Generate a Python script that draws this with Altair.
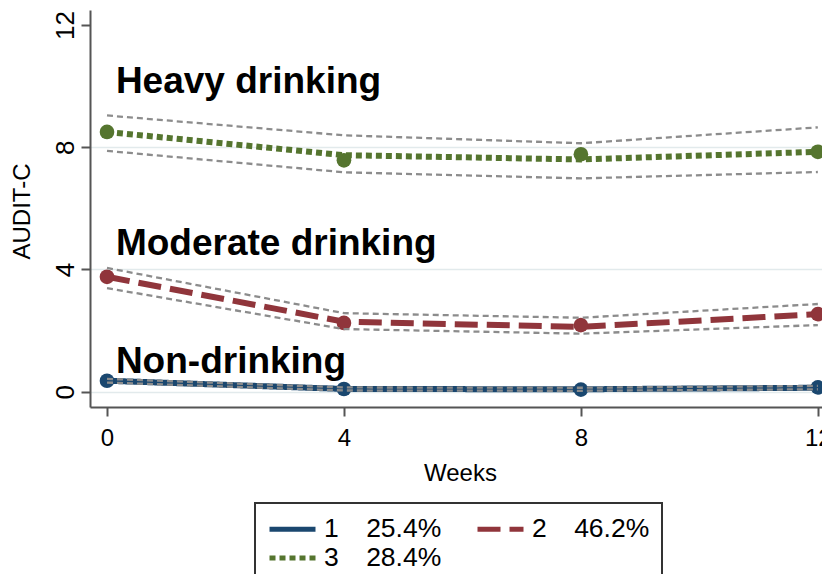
import altair as alt
import pandas as pd

# ---- data ----
weeks = [0, 4, 8, 12]
groups = ["1", "2", "3"]
shares = ["25.4%", "46.2%", "28.4%"]
colors = ["#1a476f", "#90353b", "#55752f"]
dashes = [[1, 0], [23, 9], [6, 4]]

fit_non = [0.36, 0.09, 0.08, 0.13]
obs_non = [0.36, 0.09, 0.07, 0.14]
lo_non = [0.30, 0.04, 0.03, 0.08]
hi_non = [0.42, 0.14, 0.13, 0.19]

fit_mod = [3.76, 2.29, 2.12, 2.54]
obs_mod = [3.76, 2.25, 2.18, 2.54]
lo_mod = [3.39, 2.05, 1.90, 2.18]
hi_mod = [4.05, 2.57, 2.42, 2.87]

fit_heavy = [8.50, 7.74, 7.60, 7.85]
obs_heavy = [8.50, 7.57, 7.77, 7.85]
lo_heavy = [7.88, 7.18, 6.98, 7.19]
hi_heavy = [9.04, 8.39, 8.13, 8.65]

annot_text = ["Heavy drinking", "Moderate drinking", "Non-drinking"]
annot_week = [0.15, 0.15, 0.15]
annot_value = [9.77, 4.47, 0.61]

y_ticks = [0, 4, 8, 12]

# ---- tables ----
sep = "\u00a0" * 3 + "\u2009"
labels = [f"{g}{sep}{s}" for g, s in zip(groups, shares)]

fits = [fit_non, fit_mod, fit_heavy]
obss = [obs_non, obs_mod, obs_heavy]
los = [lo_non, lo_mod, lo_heavy]
his = [hi_non, hi_mod, hi_heavy]

rows_fit, rows_obs, rows_ci = [], [], []
for i, lab in enumerate(labels):
    for j, w in enumerate(weeks):
        rows_fit.append({"week": w, "value": fits[i][j], "grp": lab})
        rows_obs.append({"week": w, "value": obss[i][j], "grp": lab, "col": colors[i]})
        rows_ci.append({"week": w, "value": los[i][j], "grp": lab, "bound": "lo"})
        rows_ci.append({"week": w, "value": his[i][j], "grp": lab, "bound": "hi"})

df_fit = pd.DataFrame(rows_fit)
df_obs = pd.DataFrame(rows_obs)
df_ci = pd.DataFrame(rows_ci)
df_txt = pd.DataFrame({"week": annot_week, "value": annot_value, "txt": annot_text})

FONT = "Liberation Sans"

xscale = alt.Scale(domain=[-0.287, 12.07], nice=False, zero=False)
yscale = alt.Scale(domain=[-0.5, 12.49], nice=False, zero=False)

xaxis = alt.Axis(
    values=weeks, title="Weeks", grid=False, labelAngle=0,
    labelFont=FONT, labelFontSize=24, labelColor="black", labelPadding=10,
    labelFlush=False, labelOverlap=False,
    tickSize=9, tickWidth=2, tickColor="#555555",
    domainColor="#555555", domainWidth=2,
    titleFont=FONT, titleFontSize=24, titleFontWeight="normal", titleColor="black",
    titleX=370, titleY=54, titleAlign="center", titleBaseline="top",
)
yaxis = alt.Axis(
    values=y_ticks, title="AUDIT-C", labelAngle=270, labelAlign="center",
    labelBaseline="bottom", labelFont=FONT, labelFontSize=26, labelColor="black",
    labelPadding=3, labelFlush=False, labelOverlap=False,
    tickSize=9, tickWidth=2, tickColor="#555555",
    domainColor="#555555", domainWidth=2,
    grid=True, gridColor="#e2eaec", gridWidth=1.5,
    gridOpacity={"condition": {"test": "datum.value === 12", "value": 0}, "value": 1},
    titleFont=FONT, titleFontSize=24, titleFontWeight="normal", titleColor="black",
    titleAngle=270, titleX=-56, titleY=201, titleAlign="center", titleBaseline="bottom",
)

X = alt.X("week:Q", scale=xscale, axis=xaxis)
Y = alt.Y("value:Q", scale=yscale, axis=yaxis)

lines = alt.Chart(df_fit).mark_line(strokeWidth=6, strokeCap="butt").encode(
    x=X, y=Y,
    color=alt.Color("grp:N", scale=alt.Scale(domain=labels, range=colors),
                    legend=alt.Legend(title=None)),
    strokeDash=alt.StrokeDash("grp:N", scale=alt.Scale(domain=labels, range=dashes),
                              legend=alt.Legend(title=None)),
)

points = alt.Chart(df_obs).mark_point(filled=True, shape="circle", size=215, opacity=1).encode(
    x=X, y=Y,
    color=alt.Color("col:N", scale=None),
)

ci = alt.Chart(df_ci).mark_line(strokeWidth=2.3, strokeDash=[6, 4], color="#8c8c8c").encode(
    x=X, y=Y,
    detail=["grp:N", "bound:N"],
)

txt = alt.Chart(df_txt).mark_text(
    align="left", baseline="alphabetic", font=FONT, fontSize=37,
    fontWeight="bold", color="black",
).encode(x=X, y=Y, text="txt:N")

chart = alt.layer(lines, points, ci, txt).properties(
    width=732, height=397,
    autosize=alt.AutoSizeParams(type="none"),
    padding={"left": 82, "top": 2, "right": 0, "bottom": 167},
    background="white",
).configure_view(stroke=None).configure_legend(
    orient="none", legendX=165, legendY=493, direction="horizontal",
    columns=2, columnPadding=25, rowPadding=1, padding=12,
    strokeColor="#333333", strokeWidth=2,
    symbolType="M-1,0H3", symbolSize=529, symbolStrokeWidth=5,
    labelFont=FONT, labelFontSize=26.5, labelColor="black", labelOffset=29,
    labelLimit=400,
)

chart.save("out.html", embed_options={"renderer": "svg", "actions": False})
